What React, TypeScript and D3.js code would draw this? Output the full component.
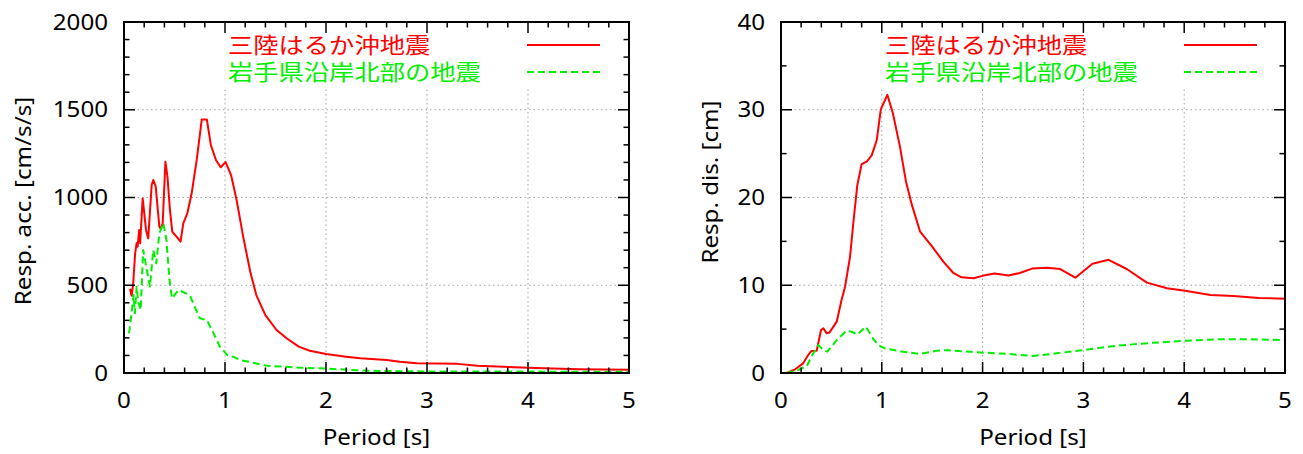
import React from "react";
import * as d3 from "d3";

// axis ticks
const periodTicks = [0, 1, 2, 3, 4, 5];
const accTicks = [0, 500, 1000, 1500, 2000];
const disTicks = [0, 10, 20, 30, 40];
const seriesNames = ["三陸はるか沖地震", "岩手県沿岸北部の地震"];

// response acceleration, 三陸はるか沖地震
const accSanrikuT = [0.06, 0.075, 0.09, 0.11, 0.125, 0.135, 0.15, 0.16, 0.185, 0.218, 0.24, 0.274, 0.29, 0.314, 0.35, 0.365, 0.383, 0.41, 0.43, 0.455, 0.478, 0.52, 0.56, 0.587, 0.627, 0.67, 0.72, 0.77, 0.82, 0.86, 0.91, 0.957, 1.006, 1.06, 1.115, 1.18, 1.25, 1.31, 1.4, 1.51, 1.61, 1.73, 1.84, 2.0, 2.2, 2.34, 2.6, 2.73, 2.9, 3.3, 3.5, 4.0, 4.5, 5.0];
const accSanriku = [480, 440, 500, 680, 740, 720, 815, 740, 995, 815, 767, 1071, 1100, 1062, 834, 820, 853, 1204, 1120, 929, 805, 777, 748, 853, 910, 1024, 1214, 1445, 1445, 1299, 1214, 1172, 1202, 1128, 986, 777, 577, 444, 330, 245, 198, 150, 127, 108, 93, 84, 74, 64, 55, 52, 42, 30, 22, 18];

// response acceleration, 岩手県沿岸北部の地震
const accIwateT = [0.05, 0.075, 0.095, 0.108, 0.125, 0.14, 0.165, 0.19, 0.22, 0.257, 0.29, 0.32, 0.35, 0.39, 0.42, 0.45, 0.475, 0.54, 0.65, 0.75, 0.82, 0.87, 0.95, 1.02, 1.08, 1.15, 1.25, 1.41, 1.74, 2.0, 2.4, 2.73, 3.0, 4.0, 5.0];
const accIwate = [226, 340, 444, 340, 492, 410, 359, 701, 607, 492, 701, 625, 796, 853, 758, 530, 425, 473, 444, 312, 302, 245, 150, 103, 93, 74, 62, 42, 30, 25, 13, 10, 9, 8, 7];

// response displacement, 三陸はるか沖地震
const disSanrikuT = [0.056, 0.14, 0.22, 0.27, 0.3, 0.354, 0.397, 0.42, 0.453, 0.48, 0.553, 0.6, 0.635, 0.685, 0.717, 0.757, 0.8, 0.85, 0.9, 0.95, 0.99, 1.055, 1.11, 1.18, 1.24, 1.3, 1.38, 1.5, 1.61, 1.71, 1.79, 1.91, 2.01, 2.12, 2.255, 2.37, 2.49, 2.64, 2.77, 2.92, 3.09, 3.25, 3.43, 3.63, 3.83, 4.01, 4.26, 4.49, 4.74, 5.0];
const disSanriku = [0, 0.42, 1.1, 2.05, 2.5, 2.54, 4.9, 5.1, 4.52, 4.6, 5.85, 8.3, 9.8, 13.25, 17.06, 21.4, 23.8, 24.1, 24.8, 26.55, 30.05, 31.7, 29.6, 25.8, 21.8, 19.1, 16.1, 14.4, 12.7, 11.4, 10.9, 10.8, 11.1, 11.35, 11.1, 11.4, 11.9, 12.0, 11.85, 10.86, 12.46, 12.9, 11.85, 10.3, 9.65, 9.38, 8.9, 8.77, 8.55, 8.47];

// response displacement, 岩手県沿岸北部の地震
const disIwateT = [0.056, 0.17, 0.22, 0.255, 0.3, 0.37, 0.42, 0.46, 0.553, 0.65, 0.7, 0.757, 0.843, 0.9, 0.965, 1.03, 1.21, 1.38, 1.545, 1.65, 1.875, 2.01, 2.25, 2.5, 2.735, 3.0, 3.33, 3.66, 4.0, 4.32, 4.65, 5.0];
const disIwate = [0, 0.34, 0.6, 0.72, 1.86, 3.19, 2.62, 2.43, 3.76, 4.82, 4.7, 4.4, 5.28, 4.14, 3.19, 2.81, 2.43, 2.17, 2.54, 2.6, 2.43, 2.32, 2.17, 1.94, 2.24, 2.62, 3.11, 3.42, 3.68, 3.84, 3.84, 3.76];

const FONT = "'Noto Sans', 'Noto Sans CJK JP', sans-serif";
const JP_FONT = "'Noto Sans CJK JP', 'Noto Sans', sans-serif";
const SX = 1.15; // glyphs in the original are a bit wide
const RED = "#ff0000";
const GREEN = "#00ee00";

const Txt = ({ x, y, anchor = "start", rotate = 0, size = 21, fill = "#000", family = FONT, children }: any) => (
  <text
    transform={`translate(${x},${y}) rotate(${rotate}) scale(${SX},1)`}
    textAnchor={anchor}
    fontSize={size}
    fill={fill}
    fontFamily={family}
  >
    {children}
  </text>
);

const Panel = ({ id, left, right, top, bottom, yTicks, yMinor, ylabel, ylabelX, ylabelY, series }: any) => {
  const x = d3.scaleLinear().domain([0, 5]).range([left, right]);
  const y = d3.scaleLinear().domain([yTicks[0], yTicks[yTicks.length - 1]]).range([bottom, top]);
  const line = d3.line<[number, number]>().x((d) => x(d[0])).y((d) => y(d[1]));
  const xMinor = d3.range(0, 5.0001, 0.2);
  const yMinorTicks = d3.range(yTicks[0], yTicks[yTicks.length - 1] + 1e-6, yMinor);
  const major = 11;
  const minor = 5.5;
  const keyX = left + 104;

  return (
    <g>
      <defs>
        <clipPath id={`clip-${id}`}>
          <rect x={left} y={top} width={right - left} height={bottom - top} />
        </clipPath>
      </defs>
      {/* grid */}
      {periodTicks.slice(1, -1).map((t) => (
        <line key={`gx${t}`} x1={x(t)} x2={x(t)} y1={top} y2={bottom} stroke="#a0a0a0" strokeWidth={1} strokeDasharray="1.5,3" />
      ))}
      {yTicks.slice(1, -1).map((t: number) => (
        <line key={`gy${t}`} x1={left} x2={right} y1={y(t)} y2={y(t)} stroke="#a0a0a0" strokeWidth={1} strokeDasharray="1.5,3" />
      ))}
      {/* opaque key box */}
      <rect x={left + 95} y={top + 1} width={393} height={64} fill="#fff" />
      {/* series */}
      <g clipPath={`url(#clip-${id})`}>
        {series.map((s: any, i: number) => (
          <path
            key={i}
            d={line(s.t.map((t: number, j: number) => [t, s.v[j]]) as [number, number][]) || ""}
            fill="none"
            stroke={s.color}
            strokeWidth={2}
            strokeDasharray={s.dash}
            strokeLinejoin="round"
          />
        ))}
      </g>
      {/* ticks on all sides, pointing in */}
      {xMinor.map((t, i) => {
        const len = i % 5 === 0 ? major : minor;
        return (
          <g key={`tx${i}`}>
            <line x1={x(t)} x2={x(t)} y1={bottom} y2={bottom - len} stroke="#000" strokeWidth={1.5} />
            <line x1={x(t)} x2={x(t)} y1={top} y2={top + len} stroke="#000" strokeWidth={1.5} />
          </g>
        );
      })}
      {yMinorTicks.map((t, i) => {
        const len = yTicks.some((m: number) => Math.abs(m - t) < 1e-6) ? major : minor;
        return (
          <g key={`ty${i}`}>
            <line x1={left} x2={left + len} y1={y(t)} y2={y(t)} stroke="#000" strokeWidth={1.5} />
            <line x1={right} x2={right - len} y1={y(t)} y2={y(t)} stroke="#000" strokeWidth={1.5} />
          </g>
        );
      })}
      <rect x={left} y={top} width={right - left} height={bottom - top} fill="none" stroke="#000" strokeWidth={2} />
      {/* tick labels */}
      {periodTicks.map((t) => (
        <Txt key={`lx${t}`} x={x(t)} y={408} anchor="middle">{t}</Txt>
      ))}
      {yTicks.map((t: number) => (
        <Txt key={`ly${t}`} x={left - 16} y={y(t) + 7.5} anchor="end">{t}</Txt>
      ))}
      <Txt x={(left + right) / 2} y={445} anchor="middle">Period [s]</Txt>
      <Txt x={ylabelX} y={ylabelY} anchor="middle" rotate={-90}>{ylabel}</Txt>
      {/* key */}
      {series.map((s: any, i: number) => (
        <g key={`k${i}`}>
          <Txt x={keyX} y={53 + i * 27} fill={s.color} family={JP_FONT} size={22}>{s.name}</Txt>
          <line x1={left + 403} x2={left + 476} y1={45 + i * 27} y2={45 + i * 27} stroke={s.color} strokeWidth={2} strokeDasharray={s.dash} />
        </g>
      ))}
    </g>
  );
};

export default function App() {
  return (
    <svg width={1303} height={454} style={{ position: "absolute", left: 0, top: 0, background: "#fff" }}>
      <rect width={1303} height={454} fill="#fff" />
      <Panel
        id="acc"
        left={124}
        right={629}
        top={22}
        bottom={373}
        yTicks={accTicks}
        yMinor={100}
        ylabel="Resp. acc. [cm/s/s]"
        ylabelX={31}
        ylabelY={201}
        series={[
          { name: seriesNames[0], t: accSanrikuT, v: accSanriku, color: RED, dash: null },
          { name: seriesNames[1], t: accIwateT, v: accIwate, color: GREEN, dash: "7,4" },
        ]}
      />
      <Panel
        id="dis"
        left={781}
        right={1285}
        top={22}
        bottom={373}
        yTicks={disTicks}
        yMinor={5}
        ylabel="Resp. dis. [cm]"
        ylabelX={718}
        ylabelY={182}
        series={[
          { name: seriesNames[0], t: disSanrikuT, v: disSanriku, color: RED, dash: null },
          { name: seriesNames[1], t: disIwateT, v: disIwate, color: GREEN, dash: "7,4" },
        ]}
      />
    </svg>
  );
}
